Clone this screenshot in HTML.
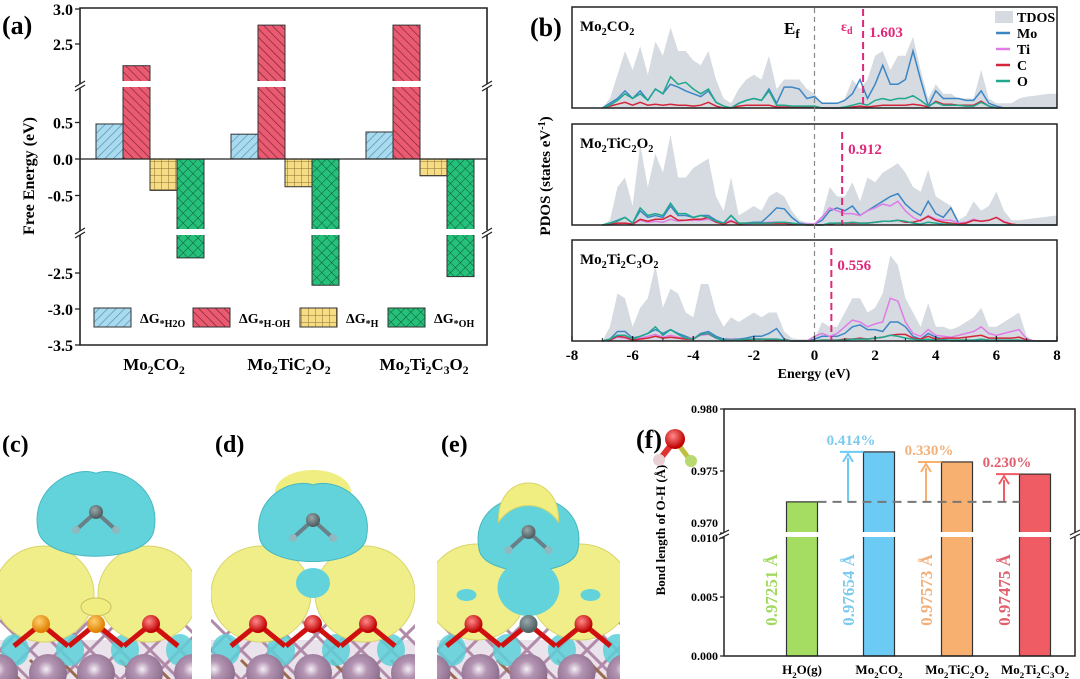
<!DOCTYPE html>
<html><head><meta charset="utf-8">
<style>
html,body{margin:0;padding:0;background:#fff;}
svg{display:block;font-family:"Liberation Serif",serif;font-weight:bold;}
</style></head>
<body>
<svg id="fig" width="1080" height="679" viewBox="0 0 1080 679" xmlns="http://www.w3.org/2000/svg">
<defs>
<pattern id="pH2O" patternUnits="userSpaceOnUse" width="6" height="6" patternTransform="rotate(45)"><rect width="6" height="6" fill="#a9daee"/><line x1="0" y1="0" x2="0" y2="6" stroke="#4f8fb0" stroke-width="1.3"/></pattern>
<pattern id="pHOH" patternUnits="userSpaceOnUse" width="6" height="6" patternTransform="rotate(-45)"><rect width="6" height="6" fill="#ea5b72"/><line x1="0" y1="0" x2="0" y2="6" stroke="#7a2030" stroke-width="1.3"/></pattern>
<pattern id="pH" patternUnits="userSpaceOnUse" width="7" height="7"><rect width="7" height="7" fill="#f6dc84"/><path d="M0 0H7M0 0V7" stroke="#8a7030" stroke-width="1"/></pattern>
<pattern id="pOH" patternUnits="userSpaceOnUse" width="7" height="7" patternTransform="rotate(45)"><rect width="7" height="7" fill="#25c07a"/><path d="M0 0H7M0 0V7" stroke="#0d5a36" stroke-width="1"/></pattern>
<radialGradient id="gPur" cx="0.45" cy="0.4" r="0.6"><stop offset="0" stop-color="#f4eef4"/><stop offset="0.35" stop-color="#b395b3"/><stop offset="1" stop-color="#8a6a8a"/></radialGradient>
<radialGradient id="gRed" cx="0.4" cy="0.35" r="0.6"><stop offset="0" stop-color="#ff8a8a"/><stop offset="1" stop-color="#c00000"/></radialGradient>
<radialGradient id="gOr" cx="0.4" cy="0.35" r="0.6"><stop offset="0" stop-color="#ffd070"/><stop offset="1" stop-color="#e08000"/></radialGradient>
<radialGradient id="gGr" cx="0.4" cy="0.35" r="0.6"><stop offset="0" stop-color="#9aa8aa"/><stop offset="1" stop-color="#4f5f62"/></radialGradient>
</defs>
<g id="panelA"></g>
<g id="panelB"></g>
<g id="panelCDE"></g>
<g id="panelF"></g>
</svg>
<script>
// ===== Panel (a) data =====
const aCategories = ['Mo2CO2','Mo2TiC2O2','Mo2Ti2C3O2'];
const aSeriesNames = ['H2O','H-OH','H','OH'];
const aH2O = [0.48, 0.34, 0.37];
const aHOH = [2.19, 2.77, 2.77];
const aH = [-0.43, -0.38, -0.23];
const aOH = [-2.29, -2.67, -2.55];
const aTicks = ['3.0','2.5','0.5','0.0','-0.5','-2.5','-3.0','-3.5'];

// ===== Panel (b) data =====
const bEnergy = [-7,-6.75,-6.5,-6.25,-6,-5.75,-5.5,-5.25,-5,-4.75,-4.5,-4.25,-4,-3.75,-3.5,-3.25,-3,-2.75,-2.5,-2.25,-2,-1.75,-1.5,-1.25,-1,-0.75,-0.5,-0.25,0,0.25,0.5,0.75,1,1.25,1.5,1.75,2,2.25,2.5,2.75,3,3.25,3.5,3.75,4,4.25,4.5,4.75,5,5.25,5.5,5.75,6,6.25,6.5,6.75,7,7.25,7.5,7.75,8];
const bTicks = [-8,-6,-4,-2,0,2,4,6,8];
const bNames = ['Mo2CO2','Mo2TiC2O2','Mo2Ti2C3O2'];
const bEpsD = [1.603, 0.912, 0.556];
const tdos1 = [0,0.1,0.35,0.6,0.4,0.65,0.35,0.7,0.55,0.85,0.6,0.6,0.5,0.45,0.6,0.3,0.1,0.05,0.2,0.3,0.35,0.3,0.55,0.2,0.3,0.3,0.3,0.2,0.15,0.05,0.05,0.05,0.1,0.3,0.2,0.3,0.55,0.6,0.4,0.55,0.55,0.75,0.4,0.1,0.25,0.15,0.15,0.1,0.1,0.1,0.4,0.1,0.05,0.05,0.05,0.1,0.12,0.13,0.14,0.15,0.15];
const mo1 = [0,0.05,0.1,0.18,0.1,0.18,0.08,0.2,0.15,0.25,0.22,0.18,0.15,0.12,0.18,0.06,0.02,0,0.05,0.08,0.1,0.08,0.2,0.05,0.22,0.22,0.2,0.1,0.12,0.05,0.05,0.05,0.08,0.15,0.3,0.1,0.25,0.45,0.25,0.25,0.3,0.6,0.3,0.02,0.18,0.1,0.1,0.1,0.08,0.08,0.18,0.05,0.02,0,0,0,0,0,0,0,0];
const ti1 = [];
const c1 = [0,0.02,0.04,0.06,0.03,0.06,0.03,0.04,0.03,0.04,0.03,0.03,0.02,0.03,0.06,0.02,0,0,0.02,0.03,0.03,0.03,0.03,0.01,0.01,0.01,0.01,0.01,0.01,0,0,0,0,0.01,0.02,0.01,0.02,0.03,0.03,0.03,0.03,0.04,0.03,0.01,0.07,0.04,0.04,0.03,0.03,0.03,0.07,0.02,0,0,0,0,0,0,0,0,0];
const o1 = [0,0.03,0.08,0.15,0.1,0.15,0.08,0.2,0.15,0.33,0.25,0.27,0.2,0.15,0.2,0.06,0.02,0,0.05,0.08,0.1,0.08,0.18,0.03,0.03,0.02,0.02,0.02,0.02,0,0,0,0.01,0.03,0.05,0.03,0.08,0.1,0.08,0.1,0.1,0.13,0.08,0.02,0.06,0.03,0.03,0.03,0.02,0.02,0.06,0.02,0,0,0,0,0,0,0,0,0];
const tdos2 = [0,0.05,0.4,0.5,0.2,0.85,0.4,0.75,0.55,0.95,0.5,0.5,0.6,0.65,0.7,0.3,0.15,0.5,0.1,0.15,0.2,0.15,0.3,0.35,0.3,0.15,0.05,0.03,0.02,0.1,0.4,0.3,0.3,0.45,0.25,0.5,0.45,0.55,0.6,0.65,0.55,0.4,0.35,0.58,0.3,0.25,0.2,0.05,0.1,0.25,0.15,0.2,0.35,0.15,0.05,0.05,0.06,0.07,0.08,0.09,0.1];
const mo2 = [0,0.02,0.05,0.08,0.02,0.15,0.08,0.1,0.08,0.2,0.1,0.1,0.08,0.1,0.1,0.05,0.02,0.1,0.02,0.02,0.03,0.03,0.1,0.18,0.17,0.08,0.02,0.01,0.01,0.05,0.15,0.18,0.15,0.2,0.1,0.15,0.2,0.25,0.3,0.33,0.22,0.15,0.1,0.25,0.12,0.08,0.18,0.02,0,0,0,0,0,0,0,0,0,0,0,0,0];
const ti2 = [0,0,0.01,0.02,0.01,0.05,0.03,0.04,0.03,0.06,0.04,0.05,0.05,0.05,0.06,0.03,0.02,0.05,0.01,0.01,0.02,0.02,0.03,0.03,0.03,0.02,0.01,0.01,0.01,0.08,0.18,0.15,0.12,0.12,0.1,0.15,0.18,0.22,0.2,0.25,0.15,0.08,0.04,0.1,0.06,0.05,0.05,0.02,0.03,0.06,0.04,0.05,0.08,0.04,0.01,0,0,0,0,0,0];
const c2 = [0,0.01,0.02,0.02,0.01,0.06,0.04,0.06,0.06,0.1,0.05,0.05,0.06,0.06,0.08,0.03,0.01,0.04,0.01,0.02,0.02,0.02,0.02,0.02,0.02,0.01,0.01,0,0,0,0.01,0.02,0.02,0.02,0.02,0.02,0.03,0.04,0.04,0.05,0.03,0.03,0.05,0.09,0.05,0.03,0.02,0.01,0.02,0.05,0.04,0.05,0.08,0.03,0.01,0,0,0,0,0,0];
const o2 = [0,0.02,0.04,0.08,0.02,0.18,0.1,0.12,0.1,0.23,0.12,0.12,0.08,0.1,0.08,0.04,0.02,0.1,0.02,0.02,0.02,0.02,0.02,0.03,0.03,0.02,0.01,0,0,0,0.02,0.02,0.02,0.03,0.02,0.02,0.03,0.04,0.04,0.05,0.04,0.02,0.01,0.03,0.02,0.01,0.01,0,0,0,0,0,0,0,0,0,0,0,0,0,0];
const tdos3 = [0,0.15,0.5,0.45,0.15,0.35,0.45,0.8,0.35,0.55,0.5,0.3,0.25,0.6,0.6,0.3,0.15,0.25,0.2,0.25,0.3,0.25,0.3,0.3,0.1,0.03,0.02,0.02,0.02,0.2,0.15,0.15,0.3,0.45,0.45,0.3,0.35,0.5,0.9,0.8,0.45,0.3,0.15,0.4,0.15,0.15,0.12,0.15,0.2,0.25,0.35,0.15,0.15,0.2,0.25,0.3,0.05,0,0,0,0];
const mo3 = [0,0.02,0.1,0.1,0.03,0.05,0.08,0.12,0.08,0.12,0.08,0.05,0.02,0.08,0.1,0.05,0.02,0.02,0.02,0.03,0.05,0.05,0.08,0.13,0.02,0,0,0,0.02,0.05,0.05,0.05,0.08,0.15,0.17,0.12,0.12,0.1,0.2,0.2,0.15,0.05,0.02,0.08,0.04,0.02,0,0,0,0,0,0,0,0,0,0,0,0,0,0,0];
const ti3 = [0,0.01,0.04,0.03,0.01,0.03,0.05,0.07,0.04,0.06,0.04,0.03,0.03,0.06,0.07,0.03,0.01,0.02,0.01,0.02,0.02,0.02,0.02,0.02,0.01,0,0,0,0.05,0.08,0.05,0.08,0.15,0.22,0.2,0.15,0.18,0.2,0.45,0.42,0.2,0.08,0.05,0.12,0.06,0.05,0.04,0.06,0.08,0.1,0.15,0.08,0.06,0.08,0.1,0.12,0.02,0,0,0,0];
const c3 = [0,0.01,0.05,0.04,0.01,0.02,0.03,0.05,0.03,0.04,0.03,0.02,0.02,0.07,0.08,0.03,0.01,0.01,0.01,0.01,0.02,0.02,0.01,0.01,0.01,0,0,0,0,0.01,0.01,0.01,0.02,0.02,0.03,0.02,0.03,0.04,0.06,0.07,0.07,0.03,0.02,0.05,0.02,0.03,0.03,0.03,0.04,0.05,0.06,0.03,0.03,0.03,0.03,0.04,0.01,0,0,0,0];
const o3 = [0,0.02,0.06,0.06,0.02,0.05,0.08,0.15,0.06,0.12,0.07,0.03,0.02,0.07,0.08,0.03,0.01,0.01,0.01,0.02,0.02,0.02,0.02,0.02,0.01,0,0,0,0,0.01,0.01,0.01,0.01,0.02,0.02,0.02,0.03,0.04,0.06,0.05,0.03,0.02,0.01,0.02,0.01,0.01,0.01,0.01,0.01,0.01,0.02,0.01,0.01,0.01,0.01,0.01,0,0,0,0,0];

// ===== Panel (f) data =====
const fCategories = ['H2O(g)','Mo2CO2','Mo2TiC2O2','Mo2Ti2C3O2'];
const fValues = [0.97251, 0.97654, 0.97573, 0.97475];
const fValueLabels = ['0.97251 Å','0.97654 Å','0.97573 Å','0.97475 Å'];
const fPercents = ['','0.414%','0.330%','0.230%'];
const fUpperTicks = [0.980, 0.975, 0.970];
const fLowerTicks = [0.010, 0.005, 0.000];

const NS='http://www.w3.org/2000/svg';
function mk(tag, attrs, parent){
  const e=document.createElementNS(NS,tag);
  for(const k in attrs) e.setAttribute(k,attrs[k]);
  if(parent) parent.appendChild(e);
  return e;
}
function chem(t, str, fs){
  let sub=false;
  for(const ch of str){
    const isD=/[0-9]/.test(ch);
    const ts=mk('tspan',{},t);
    if(isD&&!sub){ts.setAttribute('dy','4');ts.setAttribute('font-size',fs*0.68);sub=true;}
    else if(isD&&sub){ts.setAttribute('font-size',fs*0.68);}
    else if(!isD&&sub){ts.setAttribute('dy','-4');sub=false;}
    ts.textContent=ch;
  }
}

// ===================== PANEL A =====================
(function(){
  const g=document.getElementById('panelA');
  const X0=80, X1=487, Y0=8, Y1=345;
  function ya(v){ if(v>=1.95) return 44-(v-2.5)*70; if(v>=-1.0) return 159-v*73; return 273-(v+2.5)*72; }
  const tickVals=[3.0,2.5,0.5,0.0,-0.5,-2.5,-3.0,-3.5];
  const lab=mk('text',{x:2,y:34,'font-size':26},g); lab.textContent='(a)';
   
  const yl=mk('text',{x:0,y:0,'font-size':16,'text-anchor':'middle',transform:'translate(34,176) rotate(-90)'},g);
  yl.textContent='Free Energy (eV)';
   
  const series=[aH2O,aHOH,aH,aOH], pats=['pH2O','pHOH','pH','pOH'];
  aCategories.forEach((c,gi)=>{
    const gx=96+gi*135;
    series.forEach((s,k)=>{
      const v=s[gi]; const y1=ya(v), y2=ya(0);
      const r=mk('rect',{x:gx+k*27,y:Math.min(y1,y2),width:27,height:Math.abs(y2-y1),fill:'url(#'+pats[k]+')',stroke:'#333','stroke-width':1},g);
      
      
    });
    const t=mk('text',{x:gx+58,y:370,'font-size':17,'text-anchor':'middle'},g);
    chem(t,c,17);
     
  });
  [[81,87],[229,235]].forEach(b=>{ mk('rect',{x:X0+2,y:b[0],width:X1-X0-4,height:b[1]-b[0],fill:'#fff'},g); });
  mk('line',{x1:X0,y1:159,x2:X1,y2:159,stroke:'#222','stroke-width':1.3},g);
  const fr=mk('path',{d:`M${X0} 84 V${Y0} H${X1} V84 M${X1} 88 V230 M${X1} 235 V${Y1} H${X0} V235 M${X0} 231 V88`,fill:'none',stroke:'#222','stroke-width':1.6},g);
   
  [[X0,85],[X0,232],[X1,85],[X1,232]].forEach(p=>{
    mk('line',{x1:p[0]-5,y1:p[1]+2,x2:p[0]+5,y2:p[1]-4,stroke:'#222','stroke-width':1.3},g);
    mk('line',{x1:p[0]-5,y1:p[1]+6,x2:p[0]+5,y2:p[1],stroke:'#222','stroke-width':1.3},g);
  });
  tickVals.forEach((v,i)=>{
    const y=ya(v);
    mk('line',{x1:X0-5,y1:y,x2:X0,y2:y,stroke:'#222','stroke-width':1.3},g);
    const t=mk('text',{x:X0-7,y:y+6,'font-size':16,'text-anchor':'end'},g); t.textContent=aTicks[i];
     
  });
  const lx=[94,193,300,388], subs=['*H2O','*H-OH','*H','*OH'];
  lx.forEach((x,k)=>{
    const r=mk('rect',{x:x,y:308,width:37,height:19,fill:'url(#'+pats[k]+')',stroke:'#333','stroke-width':1},g);
     
    const t=mk('text',{x:x+46,y:323,'font-size':14},g);
    const a=mk('tspan',{},t); a.textContent='ΔG';
    const b=mk('tspan',{dy:4,'font-size':10},t); b.textContent=subs[k];
     
  });
})();

// ===================== PANEL B =====================
(function(){
  const g=document.getElementById('panelB');
  const X0=572,X1=1057;
  function xb(e){return X0+(e+8)*(X1-X0)/16;}
  const panels=[[7,108],[124,225],[240,341]];
  const data=[[tdos1,mo1,ti1,c1,o1],[tdos2,mo2,ti2,c2,o2],[tdos3,mo3,ti3,c3,o3]];
  const cols=['#3d86c6','#e07ce6','#d3263a','#1fa88e'];
  const lab=mk('text',{x:530,y:36,'font-size':26},g); lab.textContent='(b)';
   
  const yl=mk('text',{x:0,y:0,'font-size':15,'text-anchor':'middle',transform:'translate(550,176) rotate(-90)'},g);
  const t1=mk('tspan',{},yl); t1.textContent='PDOS  (states eV';
  const t2=mk('tspan',{dy:-5,'font-size':10},yl); t2.textContent='-1';
  const t3=mk('tspan',{dy:5},yl); t3.textContent=')';
   
  panels.forEach((p,pi)=>{
    const top=p[0],bot=p[1];
    const pg=mk('g',{},g);
     
    const yv=v=>bot-v*95;
    const td=data[pi][0];
    const n=Math.min(td.length,bEnergy.length);
    let d=`M${xb(bEnergy[0])} ${bot}`;
    for(let i=0;i<n;i++) d+=` L${xb(bEnergy[i]).toFixed(1)} ${yv(td[i]).toFixed(1)}`;
    d+=` L${xb(bEnergy[n-1])} ${bot} Z`;
    const a=mk('path',{d:d,fill:'#d5dbe0'},pg);
     
    for(let s=1;s<5;s++){
      const arr=data[pi][s]; const m=Math.min(arr.length,bEnergy.length);
      if(!m) continue;
      let pts=[];
      for(let i=0;i<m;i++) pts.push(xb(bEnergy[i]).toFixed(1)+','+yv(arr[i]).toFixed(1));
      const l=mk('polyline',{points:pts.join(' '),fill:'none',stroke:cols[s-1],'stroke-width':1.5},pg);
       
    }
    const x=xb(bEpsD[pi]);
    const ed=mk('line',{x1:x,y1:top+(pi==0?2:8),x2:x,y2:bot,stroke:'#e0287a','stroke-width':2,'stroke-dasharray':'7,4'},pg);
     
    const vt=mk('text',{x:x+6,y:top+30,'font-size':15,fill:'#e0287a'},pg); vt.textContent=bEpsD[pi].toFixed(3);
     
    const fr=mk('rect',{x:X0,y:top,width:X1-X0,height:bot-top,fill:'none',stroke:'#222','stroke-width':1.5},pg);
     
    const nm=mk('text',{x:X0+8,y:top+24,'font-size':15},pg); chem(nm,bNames[pi],15);
     
  });
  const ef=mk('line',{x1:xb(0),y1:8,x2:xb(0),y2:341,stroke:'#888','stroke-width':1.2,'stroke-dasharray':'5,4'},g);
   
  const eft=mk('text',{x:784,y:34,'font-size':17},g);
  const e1=mk('tspan',{},eft); e1.textContent='E';
  const e2=mk('tspan',{dy:4,'font-size':13},eft); e2.textContent='f';
   
  const eps=mk('text',{x:841,y:31,'font-size':14,fill:'#e0287a'},g);
  const p1=mk('tspan',{},eps); p1.textContent='ε';
  const p2=mk('tspan',{dy:3,'font-size':10},eps); p2.textContent='d';
   
  bTicks.forEach(v=>{
    mk('line',{x1:xb(v),y1:341,x2:xb(v),y2:336,stroke:'#222','stroke-width':1.3},g);
    if(v<8) mk('line',{x1:xb(v+1),y1:341,x2:xb(v+1),y2:338,stroke:'#222','stroke-width':1},g);
    const t=mk('text',{x:xb(v),y:360,'font-size':15,'text-anchor':'middle'},g); t.textContent=v;
     
  });
  const xt=mk('text',{x:814,y:378,'font-size':14,'text-anchor':'middle'},g); xt.textContent='Energy (eV)';
   
  const lg=mk('g',{},g);  
  mk('rect',{x:995,y:11,width:18,height:12,fill:'#d5dbe0'},lg);
  const names=['TDOS','Mo','Ti','C','O'];
  [22,38,54,70,86].forEach((y,i)=>{
    if(i>0) mk('line',{x1:996,y1:y-5,x2:1010,y2:y-5,stroke:cols[i-1],'stroke-width':2.5},lg);
    const t=mk('text',{x:1017,y:y,'font-size':14},lg); t.textContent=names[i];
     
  });
})();

// ===================== PANELS C D E =====================
(function(){
  const g=document.getElementById('panelCDE');
  const labels=['(c)','(d)','(e)'], ox=[0,211,437], w=[192,204,183];
  labels.forEach((L,i)=>{
    const pg=mk('g',{},g);
     
    const o=ox[i], W=w[i], cx=o+W/2;
    const cp=mk('clipPath',{id:'cl'+i},pg); mk('rect',{x:o,y:400,width:W,height:279},cp);
    const s=mk('g',{'clip-path':'url(#cl'+i+')'},pg);
    mk('rect',{x:o,y:640,width:W,height:39,fill:'#d8c8d8',opacity:0.5},s);
    for(let k=-3;k<10;k++){
      mk('line',{x1:o+k*30,y1:620,x2:o+k*30+60,y2:680,stroke:'#b08aa8','stroke-width':3},s);
      mk('line',{x1:o+k*30+60,y1:620,x2:o+k*30,y2:680,stroke:'#b08aa8','stroke-width':3},s);
      mk('line',{x1:o+k*30,y1:660,x2:o+k*30+20,y2:680,stroke:'#9b6a4e','stroke-width':3},s);
    }
    for(let k=0;k<4;k++){ mk('ellipse',{cx:o+15+k*55,cy:650,rx:14,ry:16,fill:'#5cd0d8',opacity:0.85},s); }
    const ly=i==2?592:594;
    mk('ellipse',{cx:cx-52,cy:ly,rx:50,ry:48,fill:'#f0ee88',stroke:'#d8d46a','stroke-width':1},s);
    mk('ellipse',{cx:cx+52,cy:ly,rx:50,ry:48,fill:'#f0ee88',stroke:'#d8d46a','stroke-width':1},s);
    const ty=i==0?520:(i==1?528:540);
    const sc=i==0?1:(i==1?0.92:0.85);
    if(i==1) mk('ellipse',{cx:cx,cy:ty-36,rx:38,ry:22,fill:'#f0ee80'},s);
    const hw=58*sc, up=55*sc, dn=45*sc;
    mk('path',{d:`M${cx-hw} ${ty+10} C${cx-hw-8} ${ty-up*0.6},${cx-22} ${ty-up},${cx} ${ty-up*0.85} C${cx+22} ${ty-up},${cx+hw+8} ${ty-up*0.6},${cx+hw} ${ty+10} C${cx+hw-6} ${ty+dn},${cx-hw+6} ${ty+dn},${cx-hw} ${ty+10}Z`,fill:'#62d3db',stroke:'#48b8c0','stroke-width':1},s);
    if(i==2) mk('path',{d:`M${cx-30} ${ty-18} C${cx-32} ${ty-70},${cx+32} ${ty-70},${cx+30} ${ty-18} C${cx+15} ${ty-40},${cx-15} ${ty-40},${cx-30} ${ty-18}Z`,fill:'#f0ee80',stroke:'#d8d46a'},s);
    if(i==1) mk('ellipse',{cx:cx,cy:583,rx:17,ry:15,fill:'#62d3db'},s);
    if(i==2){ mk('ellipse',{cx:cx,cy:588,rx:31,ry:28,fill:'#62d3db'},s);
      mk('ellipse',{cx:cx-62,cy:595,rx:10,ry:6,fill:'#62d3db'},s); mk('ellipse',{cx:cx+62,cy:595,rx:10,ry:6,fill:'#62d3db'},s);}
    if(i==0){ mk('ellipse',{cx:cx,cy:607,rx:15,ry:9,fill:'#f0ee80',stroke:'#c8c060'},s); }
    mk('line',{x1:cx,y1:ty-8,x2:cx-20,y2:ty+10,stroke:'#6a8088','stroke-width':4},s);
    mk('line',{x1:cx,y1:ty-8,x2:cx+20,y2:ty+10,stroke:'#6a8088','stroke-width':4},s);
    mk('circle',{cx:cx,cy:ty-8,r:7,fill:'url(#gGr)'},s);
    mk('circle',{cx:cx-20,cy:ty+10,r:4,fill:'#8fb8c0'},s);
    mk('circle',{cx:cx+20,cy:ty+10,r:4,fill:'#8fb8c0'},s);
    const oy=624;
    [-55,0,55].forEach((dx,k)=>{
      mk('line',{x1:cx+dx,y1:oy,x2:cx+dx-27,y2:oy+22,stroke:'#d01010','stroke-width':5},s);
      mk('line',{x1:cx+dx,y1:oy,x2:cx+dx+27,y2:oy+22,stroke:'#d01010','stroke-width':5},s);
      const fill=(i==0&&k<2)?'url(#gOr)':(i==2&&k==1?'url(#gGr)':'url(#gRed)');
      mk('circle',{cx:cx+dx,cy:oy,r:9,fill:fill},s);
    });
    [-97,-48,0,48,97].forEach(dx=>{ mk('circle',{cx:cx+dx,cy:673,r:19,fill:'url(#gPur)'},s); });
    const t=mk('text',{x:o+(i==0?2:4),y:452,'font-size':24},pg); t.textContent=L;
     
  });
})();

// ===================== PANEL F =====================
(function(){
  const g=document.getElementById('panelF');
  const X0=724,X1=1075,Y0=409,Y1=656;
  function yf(v){ return v>=0.5 ? 471-(v-0.975)*12400 : 656-v*11800; }
  const centers=[802,879,957,1035], bw=31;
  const fills=['#a5dc62','#6ccbf5','#f8b070','#ef5c63'];
  const tcol=['#a2d860','#7ccbee','#f2b07a','#e0606e'];
  const lab=mk('text',{x:636,y:448,'font-size':26},g); lab.textContent='(f)';
   
  const yl=mk('text',{x:0,y:0,'font-size':13,'text-anchor':'middle',transform:'translate(665,530) rotate(-90)'},g);
  yl.textContent='Bond length of O-H (Å)';
   
  const wi=mk('g',{},g);  
  mk('line',{x1:675,y1:440,x2:660,y2:459,stroke:'#e03030','stroke-width':6},wi);
  mk('line',{x1:675,y1:440,x2:690,y2:460,stroke:'#c0c040','stroke-width':5},wi);
  mk('circle',{cx:675,cy:439,r:10,fill:'url(#gRed)'},wi);
  mk('circle',{cx:659,cy:460,r:6,fill:'#e8d0d4'},wi);
  mk('circle',{cx:691,cy:461,r:6,fill:'#b8d870'},wi);
  const ref=yf(fValues[0]);
  fValues.forEach((v,i)=>{
    const r=mk('rect',{x:centers[i]-bw/2,y:yf(v),width:bw,height:Y1-yf(v),fill:fills[i],stroke:'#333','stroke-width':1.2},g);
    
    
    const lx=centers[i]-31;
    const vt=mk('text',{x:0,y:0,'font-size':17,'text-anchor':'middle',fill:tcol[i],transform:`translate(${lx+6},590) rotate(-90)`},g);
    vt.textContent=fValueLabels[i];
     
    const xt=mk('text',{x:centers[i],y:674,'font-size':13,'text-anchor':'middle'},g); chem(xt,fCategories[i],13);
     
    if(i>0){
      const ax=centers[i]-31, top=yf(v);
      const ag=mk('g',{},g);  
      mk('line',{x1:ax-8,y1:top,x2:centers[i]-bw/2,y2:top,stroke:fills[i],'stroke-width':2},ag);
      mk('line',{x1:ax,y1:ref,x2:ax,y2:top+6,stroke:fills[i],'stroke-width':2},ag);
      mk('path',{d:`M${ax-5} ${top+10} L${ax} ${top+2} L${ax+5} ${top+10}`,fill:'none',stroke:fills[i],'stroke-width':2},ag);
      const pt=mk('text',{x:ax+3,y:top-7,'font-size':15,'text-anchor':'middle',fill:tcol[i]},g); pt.textContent=fPercents[i];
       
    }
  });
  const dl=mk('line',{x1:centers[0]+bw/2,y1:ref,x2:centers[3]-bw/2,y2:ref,stroke:'#777','stroke-width':2,'stroke-dasharray':'9,6'},g);
   
  mk('rect',{x:X0+2,y:532,width:X1-X0-4,height:5,fill:'#fff'},g);
  const fr=mk('path',{d:`M${X0} 532 V${Y0} H${X1} V532 M${X1} 537 V${Y1} H${X0} V537`,fill:'none',stroke:'#222','stroke-width':1.5},g);
   
  [[X0,534],[X1,534]].forEach(p=>{
    mk('line',{x1:p[0]-5,y1:p[1]+1,x2:p[0]+5,y2:p[1]-4,stroke:'#222','stroke-width':1.2},g);
    mk('line',{x1:p[0]-5,y1:p[1]+5,x2:p[0]+5,y2:p[1],stroke:'#222','stroke-width':1.2},g);
  });
  fUpperTicks.concat(fLowerTicks).forEach(v=>{
    const y=yf(v)+(v>0.5&&v<0.9705?-10:0);
    mk('line',{x1:X0-4,y1:yf(v),x2:X0,y2:yf(v),stroke:'#222','stroke-width':1.2},g);
    const t=mk('text',{x:X0-6,y:y+4,'font-size':12,'text-anchor':'end'},g); t.textContent=v.toFixed(3);
     
  });
})();
</script>
</body></html>
